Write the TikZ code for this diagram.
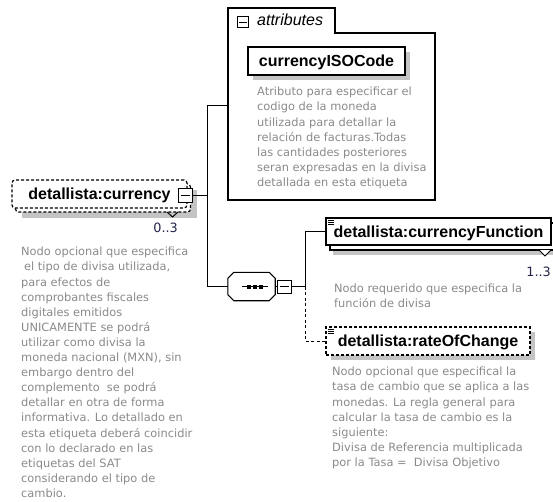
\documentclass[tikz,border=0pt]{standalone}
\usepackage{fontspec}
\setmainfont{Liberation Sans}
\newfontfamily\descfont{DejaVu Sans}
\definecolor{desc}{RGB}{138,138,138}
\definecolor{shade}{RGB}{196,196,196}
\definecolor{occ}{RGB}{35,35,75}
\begin{document}
\begin{tikzpicture}[x=1pt,y=-1pt,
  elem/.style={draw=black, line width=1.2pt, fill=white, inner sep=0pt,
    text height=11.5pt, text depth=0pt, font=\fontsize{16}{18}\selectfont\bfseries},
  optelem/.style={elem, dash pattern=on 3pt off 2pt},
  desctext/.style={anchor=north west, inner sep=0pt, align=left, text=desc,
    font=\descfont\fontsize{11.4}{15.1}\selectfont},
  occtext/.style={anchor=base east, inner sep=0pt, text=occ,
    font=\descfont\fontsize{12.8}{15}\selectfont},
  shadowbox/.style={fill=shade, draw=none},
  conn/.style={line width=1pt},
  optconn/.style={conn, dash pattern=on 3pt off 2.5pt},
  expbox/.style={draw, line width=1pt, fill=white, inner sep=0pt},
  iconline/.style={line width=0.6pt}
]
\useasboundingbox (0,0) rectangle (553,502);

% ---------- shadows ----------
\fill[shadowbox] (22,190) rectangle (197,218);
\fill[shadowbox] (253,52) rectangle (410,80);
\fill[shadowbox] (333,228) rectangle (553,255);
\fill[shadowbox] (331,332) rectangle (535,360);

% ---------- attributes frame ----------
\draw[line width=1.2pt] (228,200) -- (228,8) -- (335,8) -- (335,33) -- (435,33) -- (435,200) -- cycle;
\node[expbox, minimum width=11pt, minimum height=11pt] (attrexp) at (242.5,22.5) {};
\draw[conn] ([xshift=2pt]attrexp.west) -- ([xshift=-2pt]attrexp.east);
\node[anchor=base west, inner sep=0pt, font=\fontsize{16}{18}\selectfont\itshape] (attrlbl) at (257,26) {attributes};

\node[elem, minimum width=157pt, minimum height=28pt] (iso) at (326.5,61) {currencyISOCode};
\node[desctext] (isodesc) at (257,85.1) {\strut Atributo para especificar el\\
codigo de la moneda\\
utilizada para detallar la\\
relación de facturas.Todas\\
las cantidades posteriores\\
seran expresadas en la divisa\\
detallada en esta etiqueta};

% ---------- currency ----------
\node[optelem, rounded corners=3pt, minimum width=175pt, minimum height=28pt] (curback) at (103,198) {};
\draw[conn] (167,212) -- (172.5,217) -- (178,212);
\node[optelem, rounded corners=3pt, minimum width=175pt, minimum height=28pt] (cur) at (99.5,194) {detallista:currency};
\node[expbox, minimum width=14pt, minimum height=14pt] (curexp) at (185,195.5) {};
\draw[conn] ([xshift=3pt]curexp.west) -- ([xshift=-3pt]curexp.east);
\node[occtext] (curocc) at (178,232.3) {0..3};
\node[desctext] (curdesc) at (21,245.1) {\strut Nodo opcional que especifica\\
\hspace*{3pt}el tipo de divisa utilizada,\\
para efectos de\\
comprobantes fiscales\\
digitales emitidos\\
UNICAMENTE se podrá\\
utilizar como divisa la\\
moneda nacional (MXN), sin\\
embargo dentro del\\
complemento\ \ se podrá\\
detallar en otra de forma\\
informativa. Lo detallado en\\
esta etiqueta deberá coincidir\\
con lo declarado en las\\
etiquetas del SAT\\
considerando el tipo de\\
cambio.};

% ---------- sequence compositor ----------
\node[minimum width=47pt, minimum height=28pt, inner sep=0pt] (seq) at (251.5,286.5) {};
\begin{scope}[shift={(5,5)}]
\fill[shade] ([xshift=6pt]seq.north west) -- ([xshift=-6pt]seq.north east) -- ([yshift=-6pt]seq.north east) -- ([yshift=6pt]seq.south east) -- ([xshift=-6pt]seq.south east) -- ([xshift=6pt]seq.south west) -- ([yshift=6pt]seq.south west) -- ([yshift=-6pt]seq.north west) -- cycle;
\end{scope}
\draw[line width=1.1pt, fill=white] ([xshift=6pt]seq.north west) -- ([xshift=-6pt]seq.north east) -- ([yshift=-6pt]seq.north east) -- ([yshift=6pt]seq.south east) -- ([xshift=-6pt]seq.south east) -- ([xshift=6pt]seq.south west) -- ([yshift=6pt]seq.south west) -- ([yshift=-6pt]seq.north west) -- cycle;
\draw[line width=1.1pt] (242,286.5) -- (268,286.5);
\foreach \dx in {249,255,261}{\fill (\dx-2,284.5) rectangle (\dx+2,288.5);}
\node[expbox, minimum width=14pt, minimum height=13pt] (seqexp) at (284,286.5) {};
\draw[conn] ([xshift=3pt]seqexp.west) -- ([xshift=-3pt]seqexp.east);

% ---------- currencyFunction ----------
\node[elem, minimum width=225pt, minimum height=27pt] (cfback) at (442.5,236.5) {};
\draw[conn, fill=white] (539,250) -- (545,256) -- (551,250);
\node[elem, minimum width=225pt, minimum height=27pt] (cf) at (438.5,231.5) {detallista:currencyFunction};
\foreach \dy in {0,2,4}{\draw[iconline] (328,220.5+\dy) -- (334,220.5+\dy);}
\node[occtext] (cfocc) at (551,276.7) {1..3};
\node[desctext] (cfdesc) at (334,281.4) {\strut Nodo requerido que especifica la\\
función de divisa};

% ---------- rateOfChange ----------
\node[optelem, minimum width=204pt, minimum height=28pt] (roc) at (428,341) {detallista:rateOfChange};
\foreach \dy in {0,2,4}{\draw[iconline] (328,329.5+\dy) -- (334,329.5+\dy);}
\node[desctext] (rocdesc) at (332,365.1) {\strut Nodo opcional que especifical la\\
tasa de cambio que se aplica a las\\
monedas. La regla general para\\
calcular la tasa de cambio es la\\
siguiente:\\
Divisa de Referencia multiplicada\\
por la Tasa =\ \ Divisa Objetivo};

% ---------- connectors ----------
\coordinate (j1) at (207,195.5);
\coordinate (j1t) at (207,106);
\coordinate (j1b) at (207,286.5);
\coordinate (attrin) at (228,106);
\coordinate (j2) at (305,286.5);
\coordinate (j2t) at (305,231.5);
\coordinate (j2b) at (305,341);
\draw[conn] (curexp.east) -- (j1);
\draw[conn] (j1t) -- (j1b);
\draw[conn] (j1t) -- (attrin);
\draw[conn] (j1b) -- (seq.west);
\draw[conn] (seq.east) -- (seqexp.west);
\draw[conn] (seqexp.east) -- (j2);
\draw[conn] (j2) -- (j2t) -- (cf.west);
\draw[optconn] (j2) -- (j2b) -- (roc.west);
\end{tikzpicture}
\end{document}
